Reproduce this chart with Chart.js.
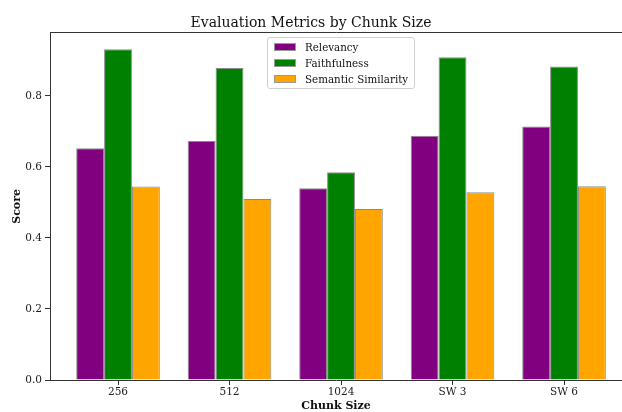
<!DOCTYPE html>
<html lang="en">
<head>
  <meta charset="UTF-8">
  <title>Evaluation Metrics by Chunk Size</title>
  <script src="https://cdn.jsdelivr.net/npm/chart.js"></script>
  <style>
    body { margin: 0; background: #fff; }
    #wrap { position: relative; width: 622px; height: 412px; }
    #legend {
      position: absolute; left: 267px; top: 37px;
      padding: 1px 6px 1px 6px;
      border: 1px solid #d0d0d0; border-radius: 3px;
      background: rgba(255,255,255,0.85);
      font-family: 'DejaVu Serif', serif; font-size: 10.3px; color: #111;
    }
    #legend .row { display: flex; align-items: center; height: 16px; }
    #legend .sw { width: 20px; height: 6px; border: 1px solid #999; margin-right: 9px; }
  </style>
</head>
<body>
  <div id="wrap">
    <canvas id="myChart"></canvas>
    <div id="legend"></div>
  </div>

  <script>
    const categories = ['256', '512', '1024', 'SW 3', 'SW 6'];
    const relevancy = [0.653, 0.673, 0.540, 0.688, 0.714];
    const faithfulness = [0.932, 0.879, 0.585, 0.909, 0.883];
    const semanticSimilarity = [0.545, 0.510, 0.482, 0.529, 0.546];
    const yTicks = [0, 0.2, 0.4, 0.6, 0.8];

    const seriesNames = ['Relevancy', 'Faithfulness', 'Semantic Similarity'];
    const seriesColors = ['#800080', '#008000', '#FFA500'];
    const seriesValues = [relevancy, faithfulness, semanticSimilarity];

    const serif = "'DejaVu Serif', serif";

    // 類別序號當 x 值，用線性軸才能做出右側被裁切的樣子
    const datasets = seriesValues.map((vals, k) => ({
      label: seriesNames[k],
      data: vals.map((v, i) => ({ x: i, y: v })),
      backgroundColor: seriesColors[k],
      borderColor: '#8c8c8c',
      borderWidth: 1,
      categoryPercentage: 0.75,
      barPercentage: 1.0
    }));

    // HTML 圖例
    const legendEl = document.getElementById('legend');
    seriesNames.forEach((name, k) => {
      const row = document.createElement('div');
      row.className = 'row';
      const sw = document.createElement('span');
      sw.className = 'sw';
      sw.style.background = seriesColors[k];
      const txt = document.createElement('span');
      txt.textContent = name;
      row.appendChild(sw);
      row.appendChild(txt);
      legendEl.appendChild(row);
    });

    const ctx = document.getElementById('myChart').getContext('2d');
    const chart = new Chart(ctx, {
      type: 'bar',
      data: { datasets: datasets },
      options: {
        responsive: true,
        maintainAspectRatio: false,
        animation: false,
        layout: { padding: 0 },
        plugins: {
          legend: { display: false },
          tooltip: { enabled: false },
          title: {
            display: true,
            text: 'Evaluation Metrics by Chunk Size',
            color: '#111',
            font: { family: serif, size: 14, weight: 'normal' },
            padding: { top: 15, bottom: 1 }
          }
        },
        scales: {
          x: {
            type: 'linear',
            position: 'bottom',
            offset: false,
            min: -0.61,
            max: 4.52,
            afterBuildTicks: s => { s.ticks = categories.map((_, i) => ({ value: i })); },
            afterFit: s => { s.height = 32; },
            ticks: {
              color: '#222',
              padding: 1,
              font: { family: serif, size: 10.5 },
              maxRotation: 0,
              callback: v => categories[v]
            },
            grid: { display: true, offset: false, drawOnChartArea: false, drawTicks: true, tickLength: 5, color: '#333' },
            border: { display: true, color: '#333', width: 1 },
            title: {
              display: true,
              text: 'Chunk Size',
              color: '#111',
              font: { family: serif, size: 11, weight: 'bold', lineHeight: 1.0 },
              padding: { top: 0, bottom: 0 }
            }
          },
          x2: {
            type: 'linear',
            position: 'top',
            display: true,
            afterFit: s => { s.height = 0; },
            ticks: { display: false },
            grid: { display: false },
            border: { display: true, color: '#333', width: 1 }
          },
          y: {
            min: 0,
            max: 0.978,
            afterBuildTicks: s => { s.ticks = yTicks.map(v => ({ value: v })); },
            afterFit: s => { s.width = 50; },
            ticks: {
              color: '#222',
              padding: 3,
              font: { family: serif, size: 10.5 },
              callback: v => v.toFixed(1)
            },
            grid: { display: true, drawOnChartArea: false, drawTicks: true, tickLength: 5, color: '#333' },
            border: { display: true, color: '#333', width: 1 },
            title: {
              display: true,
              text: 'Score',
              color: '#111',
              font: { family: serif, size: 11, weight: 'bold' },
              padding: { top: 11, bottom: 0 }
            }
          }
        }
      }
    });
  </script>
</body>
</html>
